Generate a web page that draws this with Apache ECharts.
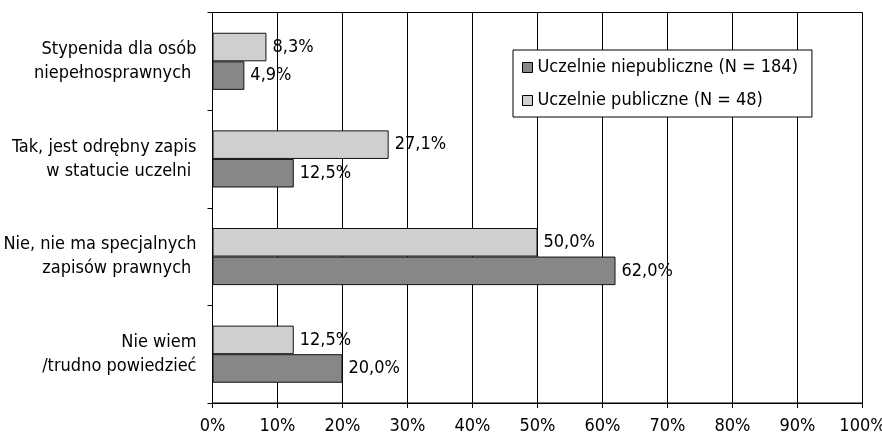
<!DOCTYPE html>
<html>
<head>
<meta charset="utf-8">
<script src="https://cdn.jsdelivr.net/npm/echarts@6/dist/echarts.min.js"></script>
<style>
html,body{margin:0;padding:0;background:#fff;}
#chart{width:882px;height:435px;}
</style>
</head>
<body>
<div id="chart"></div>
<script>
const categories = [
  "Stypenida dla osób\nniepełnosprawnych ",
  "Tak, jest odrębny zapis\nw statucie uczelni ",
  "Nie, nie ma specjalnych\nzapisów prawnych ",
  "Nie wiem\n/trudno powiedzieć"
];
const seriesNames = ["Uczelnie publiczne (N = 48)", "Uczelnie niepubliczne (N = 184)"];
const publiczne = [8.3, 27.1, 50.0, 12.5];
const niepubliczne = [4.9, 12.5, 62.0, 20.0];
const xTicks = { min: 0, max: 100, interval: 10 };

const FONT = "'Liberation Sans Narrow', 'Arial Narrow', 'DejaVu Sans Condensed', sans-serif";
const FS = 18;
const chart = echarts.init(document.getElementById('chart'), null, { renderer: 'canvas' });
const labelFmt = p => p.value.toFixed(1).replace('.', ',') + '%';
const mkLabel = () => ({ show: true, position: 'right', distance: 6, color: '#000', fontFamily: FONT, fontSize: FS, formatter: labelFmt });

chart.setOption({
  animation: false,
  backgroundColor: '#fff',
  textStyle: { fontFamily: FONT },
  grid: { left: 212.5, right: 19.5, top: 12.5, bottom: 32, containLabel: false, outerBoundsMode: 'none', show: true, borderColor: '#000', borderWidth: 1, backgroundColor: 'transparent' },
  legend: {
    orient: 'vertical',
    left: 513, top: 50,
    data: [seriesNames[1], seriesNames[0]],
    backgroundColor: '#fff',
    borderColor: '#000', borderWidth: 1,
    padding: [7, 14, 6, 9],
    itemGap: 12,
    itemWidth: 10, itemHeight: 10,
    icon: 'rect',
    itemStyle: { borderColor: '#000', borderWidth: 1 },
    textStyle: { fontFamily: FONT, fontSize: FS, lineHeight: 21, color: '#000' }
  },
  xAxis: {
    type: 'value', min: xTicks.min, max: xTicks.max, interval: xTicks.interval,
    axisLine: { show: true, lineStyle: { color: '#000', width: 1 } },
    axisTick: { show: true, length: 5, lineStyle: { color: '#000' } },
    splitLine: { show: true, lineStyle: { color: '#000', width: 1 } },
    axisLabel: { formatter: '{value}%', color: '#000', fontFamily: FONT, fontSize: FS, margin: 14 }
  },
  yAxis: {
    type: 'category', inverse: true, data: categories,
    axisLine: { show: true, lineStyle: { color: '#000', width: 1 } },
    axisTick: { show: true, length: 5, alignWithLabel: false, lineStyle: { color: '#000' } },
    axisLabel: { color: '#000', fontFamily: FONT, fontSize: FS, lineHeight: 24, margin: 16, align: 'right' }
  },
  series: [
    {
      name: seriesNames[0], type: 'bar', data: publiczne,
      barGap: '0%', barCategoryGap: '41.5%',
      itemStyle: { color: '#cfcfcf', borderColor: '#111', borderWidth: 1 },
      label: mkLabel()
    },
    {
      name: seriesNames[1], type: 'bar', data: niepubliczne,
      barGap: '0%', barCategoryGap: '41.5%',
      itemStyle: { color: '#878787', borderColor: '#111', borderWidth: 1 },
      label: mkLabel()
    }
  ]
});
</script>
</body>
</html>
